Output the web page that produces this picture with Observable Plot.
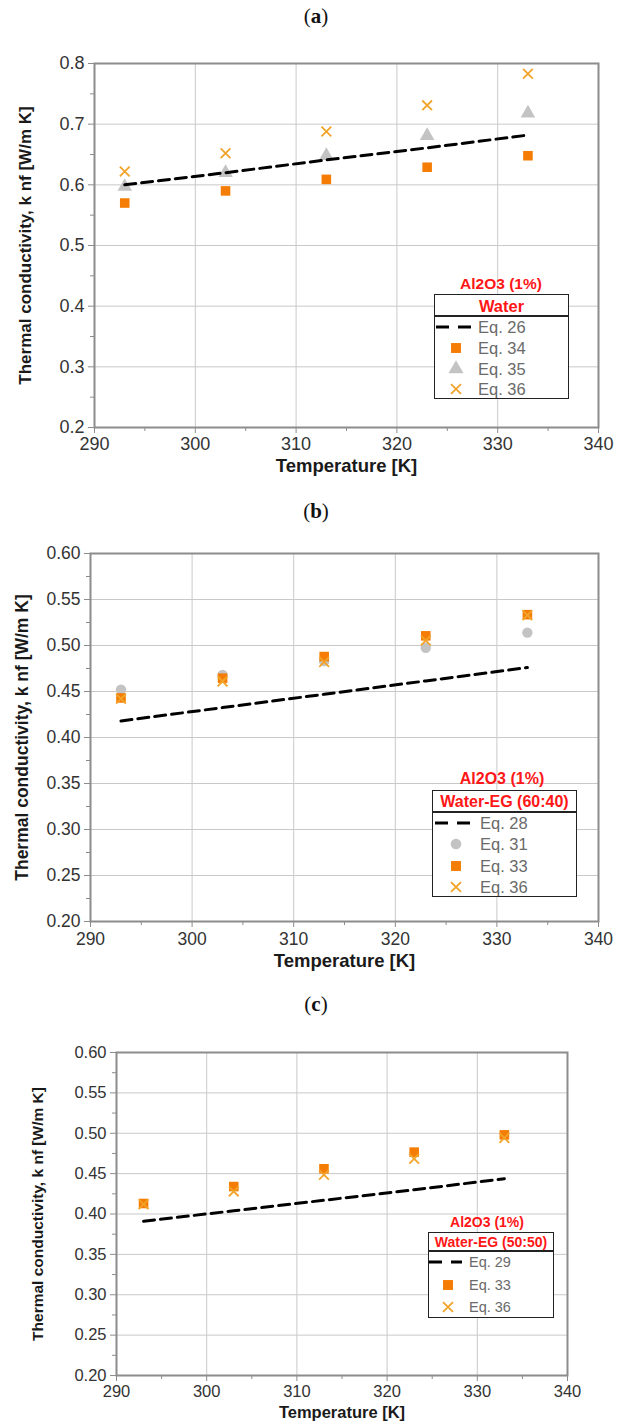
<!DOCTYPE html>
<html><head><meta charset="utf-8">
<script src="https://cdn.jsdelivr.net/npm/d3@7"></script>
<script src="https://cdn.jsdelivr.net/npm/@observablehq/plot@0.6"></script>
<style>
body{margin:0;background:#fff;}
#root{position:relative;width:632px;height:1423px;overflow:hidden;font-family:"Liberation Sans",Arial,sans-serif;background:#fff;}
.panel{position:absolute;left:0;}
.ptitle{position:absolute;left:0;width:632px;text-align:center;font-family:"Liberation Serif","DejaVu Serif",serif;font-size:21px;color:#111;line-height:1;}
.ptitle b{font-weight:bold;}
</style></head><body><div id="root"></div>
<script>
// ---- data ----
const temps = [293, 303, 313, 323, 333];
const xMajorTicks = [290, 300, 310, 320, 330, 340];
const xMinorTicks = [295, 305, 315, 325, 335];

// Panel (a): Al2O3 (1%) in Water
const aEq26 = [0.600, 0.620, 0.641, 0.661, 0.682];
const aEq34 = [0.570, 0.590, 0.609, 0.629, 0.648];
const aEq35 = [0.597, 0.620, 0.648, 0.681, 0.718];
const aEq36 = [0.622, 0.652, 0.688, 0.731, 0.783];
const aYTicks = [0.2, 0.3, 0.4, 0.5, 0.6, 0.7, 0.8];
const aYMinor = [0.25, 0.35, 0.45, 0.55, 0.65, 0.75];

// Panel (b): Al2O3 (1%) in Water-EG (60:40)
const bEq28 = [0.418, 0.4325, 0.447, 0.4615, 0.476];
const bEq31 = [0.452, 0.468, 0.483, 0.4975, 0.514];
const bEq33 = [0.443, 0.4645, 0.488, 0.5105, 0.5335];
const bEq36 = [0.442, 0.461, 0.482, 0.5055, 0.533];

// Panel (c): Al2O3 (1%) in Water-EG (50:50)
const cEq29 = [0.391, 0.404, 0.417, 0.430, 0.4437];
const cEq33 = [0.413, 0.434, 0.456, 0.4766, 0.498];
const cEq36 = [0.412, 0.428, 0.4486, 0.4684, 0.494];

const bcYTicks = [0.20, 0.25, 0.30, 0.35, 0.40, 0.45, 0.50, 0.55, 0.60];
const bcYMinor = [0.225, 0.275, 0.325, 0.375, 0.425, 0.475, 0.525, 0.575];

const yTitle = "Thermal conductivity, k nf [W/m K]";
const xTitle = "Temperature [K]";

// ---- styles ----
const C_SQ = "#f57d05";
const C_GR = "#c3c3c3";
const C_X = "#f2a42a";
const GRID = "#c9c9c9";
const AX = "#8c8c8c";

const root = document.getElementById("root");
const rows = (ys) => temps.map((t, i) => ({t, v: ys[i]}));

function makePanel(cfg) {
  const fmt = d3.format(cfg.fmt);
  const marks = [
    Plot.gridX(xMajorTicks, {stroke: GRID, strokeOpacity: 1}),
    Plot.gridY(cfg.yTicks, {stroke: GRID, strokeOpacity: 1}),
    Plot.axisX(xMajorTicks, {tickSize: 6, tickPadding: cfg.xPad, stroke: AX, fill: "#333", fontSize: cfg.tickFont, tickFormat: d3.format("d"), label: null}),
    Plot.axisX(xMinorTicks, {tickSize: 4, stroke: AX, tickFormat: () => "", label: null}),
    Plot.axisY(cfg.yTicks, {tickSize: 6, tickPadding: 4, stroke: AX, fill: "#333", fontSize: cfg.tickFont, tickFormat: fmt, label: null}),
    Plot.axisY(cfg.yMinor, {tickSize: 4, stroke: AX, tickFormat: () => "", label: null}),
    Plot.frame({stroke: AX, strokeWidth: 2}),
    Plot.text([xTitle], {frameAnchor: "bottom", dy: cfg.xTitleDy, lineAnchor: "middle", fontWeight: "bold", fontSize: cfg.xTitleFont, fill: "#1a1a1a"}),
    Plot.text([yTitle], {frameAnchor: "left", dx: cfg.yTitleDx, rotate: -90, textAnchor: "middle", lineAnchor: "middle", fontWeight: "bold", fontSize: cfg.titleFont, fill: "#1a1a1a"}),
    ...cfg.series
  ];
  const svg = Plot.plot({
    width: 632, height: cfg.height,
    marginTop: cfg.mt, marginBottom: cfg.mb, marginLeft: cfg.ml, marginRight: cfg.mr,
    style: {fontFamily: "Liberation Sans, Arial, sans-serif", background: "transparent", overflow: "visible"},
    x: {domain: [290, 340]},
    y: {domain: [cfg.yTicks[0], cfg.yTicks[cfg.yTicks.length - 1]]},
    marks
  });
  const wrap = document.createElement("div");
  wrap.className = "panel";
  wrap.style.top = cfg.top + "px";
  wrap.appendChild(svg);
  root.appendChild(wrap);
}

const sq = (ys, r = 5.4) => Plot.dot(rows(ys), {x: "t", y: "v", symbol: "square", r, fill: C_SQ, stroke: "none"});
const tri = (ys) => Plot.dot(rows(ys), {x: "t", y: "v", symbol: "triangle", r: 5.4, fill: C_GR, stroke: "none"});
const circ = (ys) => Plot.dot(rows(ys), {x: "t", y: "v", symbol: "circle", r: 5.2, fill: C_GR, stroke: "none"});
const cross = (ys) => Plot.dot(rows(ys), {x: "t", y: "v", symbol: "times", r: 4.5, stroke: C_X, strokeWidth: 1.8, fill: "none"});
const dash = (ys) => Plot.line(rows(ys), {x: "t", y: "v", stroke: "#000", strokeWidth: 3, strokeDasharray: "11,6"});

makePanel({top: 40, height: 440, mt: 23, mb: 53, ml: 94, mr: 34,
  yTicks: aYTicks, yMinor: aYMinor, fmt: ".1f", tickFont: 18, titleFont: 17, xTitleFont: 18.5, xPad: 4,
  xTitleDy: 39, yTitleDx: -69,
  series: [sq(aEq34), tri(aEq35), cross(aEq36), dash(aEq26)]});
makePanel({top: 530, height: 445, mt: 23, mb: 54, ml: 90, mr: 34,
  yTicks: bcYTicks, yMinor: bcYMinor, fmt: ".2f", tickFont: 17.5, titleFont: 17.5, xTitleFont: 18.5, xPad: 5,
  xTitleDy: 40, yTitleDx: -68,
  series: [circ(bEq31), sq(bEq33), cross(bEq36), dash(bEq28)]});
makePanel({top: 1030, height: 393, mt: 22, mb: 48, ml: 116, mr: 65,
  yTicks: bcYTicks, yMinor: bcYMinor, fmt: ".2f", tickFont: 16.5, titleFont: 15.5, xTitleFont: 16.5, xPad: 4,
  xTitleDy: 37, yTitleDx: -78,
  series: [sq(cEq33), cross(cEq36), dash(cEq29)]});

// ---- panel labels ----
[["a", 17], ["b", 512], ["c", 1005]].forEach(([l, y]) => {
  const d = document.createElement("div");
  d.className = "ptitle";
  d.style.top = (y - 11) + "px";
  d.innerHTML = "(<b>" + l + "</b>)";
  root.appendChild(d);
});

// ---- legends ----
const NS = "http://www.w3.org/2000/svg";
function addText(txt, x, y, style, anchor) {
  const d = document.createElement("div");
  d.textContent = txt;
  Object.assign(d.style, {position: "absolute", whiteSpace: "nowrap", lineHeight: "1", left: x + "px", top: y + "px",
    transform: anchor === "middle" ? "translate(-50%,-50%)" : "translate(0,-50%)"});
  Object.assign(d.style, style);
  root.appendChild(d);
}
function addSvg(x, y, w, h, build) {
  const s = document.createElementNS(NS, "svg");
  s.setAttribute("width", w); s.setAttribute("height", h);
  Object.assign(s.style, {position: "absolute", left: x + "px", top: y + "px", overflow: "visible"});
  build(s);
  root.appendChild(s);
}
function symPath(kind, r) {
  const types = {square: d3.symbolSquare, triangle: d3.symbolTriangle, circle: d3.symbolCircle, times: d3.symbolTimes};
  return d3.symbol(types[kind], Math.PI * r * r)();
}
function legend(L) {
  addText("Al2O3 (1%)", L.titleX, L.titleY, {color: "#ff1616", fontWeight: "bold", fontSize: L.titleFs + "px"}, "middle");
  const box = document.createElement("div");
  Object.assign(box.style, {position: "absolute", left: L.l + "px", top: L.t + "px", width: (L.r - L.l) + "px", height: (L.b - L.t) + "px",
    border: "1.5px solid #222", boxSizing: "border-box", background: "#fff"});
  root.appendChild(box);
  const sep = document.createElement("div");
  Object.assign(sep.style, {position: "absolute", left: L.l + "px", top: (L.sep - 0.75) + "px", width: (L.r - L.l) + "px", height: "1.5px", background: "#222"});
  root.appendChild(sep);
  addText(L.header, (L.l + L.r) / 2, L.headerY, {color: "#ff1616", fontWeight: "bold", fontSize: L.headerFs + "px"}, "middle");
  L.rows.forEach(row => {
    addText(row.label, L.textX, row.y, {color: "#6a6a6a", fontSize: L.fs + "px"}, "left");
    if (row.kind === "line") {
      addSvg(L.lx0, row.y - 3, L.lx1 - L.lx0, 6, s => {
        const ln = document.createElementNS(NS, "line");
        ln.setAttribute("x1", 0); ln.setAttribute("x2", L.lx1 - L.lx0); ln.setAttribute("y1", 3); ln.setAttribute("y2", 3);
        ln.setAttribute("stroke", "#000"); ln.setAttribute("stroke-width", 3); ln.setAttribute("stroke-dasharray", "13,9");
        s.appendChild(ln);
      });
    } else {
      addSvg(L.symX - 10, row.y - 10, 20, 20, s => {
        const p = document.createElementNS(NS, "path");
        const spec = {square: [5.6, C_SQ], triangle: [5.6, C_GR], circle: [5.3, C_GR], times: [4.6, C_X]}[row.kind];
        p.setAttribute("d", symPath(row.kind, spec[0]));
        p.setAttribute("transform", "translate(10,10)");
        if (row.kind === "times") { p.setAttribute("fill", "none"); p.setAttribute("stroke", spec[1]); p.setAttribute("stroke-width", 1.8); }
        else p.setAttribute("fill", spec[1]);
        s.appendChild(p);
      });
    }
  });
}
legend({titleX: 501, titleY: 284, titleFs: 15.5, header: "Water", headerFs: 16.5, headerY: 306, fs: 16.5,
  l: 434, t: 294, r: 569, b: 399, sep: 316, symX: 456, lx0: 436, lx1: 473, textX: 478,
  rows: [{y: 327, kind: "line", label: "Eq. 26"}, {y: 348, kind: "square", label: "Eq. 34"},
         {y: 369, kind: "triangle", label: "Eq. 35"}, {y: 389, kind: "times", label: "Eq. 36"}]});
legend({titleX: 502, titleY: 779, titleFs: 16, header: "Water-EG (60:40)", headerFs: 16, headerY: 802, fs: 16.5,
  l: 432, t: 790, r: 577, b: 897, sep: 812, symX: 456, lx0: 435, lx1: 472, textX: 480,
  rows: [{y: 823, kind: "line", label: "Eq. 28"}, {y: 844, kind: "circle", label: "Eq. 31"},
         {y: 866, kind: "square", label: "Eq. 33"}, {y: 887, kind: "times", label: "Eq. 36"}]});
legend({titleX: 487, titleY: 1222, titleFs: 14, header: "Water-EG (50:50)", headerFs: 14, headerY: 1242, fs: 14.5,
  l: 428, t: 1232, r: 554, b: 1318, sep: 1251, symX: 448, lx0: 429, lx1: 462, textX: 469,
  rows: [{y: 1262, kind: "line", label: "Eq. 29"}, {y: 1285, kind: "square", label: "Eq. 33"},
         {y: 1307, kind: "times", label: "Eq. 36"}]});
</script>
</body></html>
